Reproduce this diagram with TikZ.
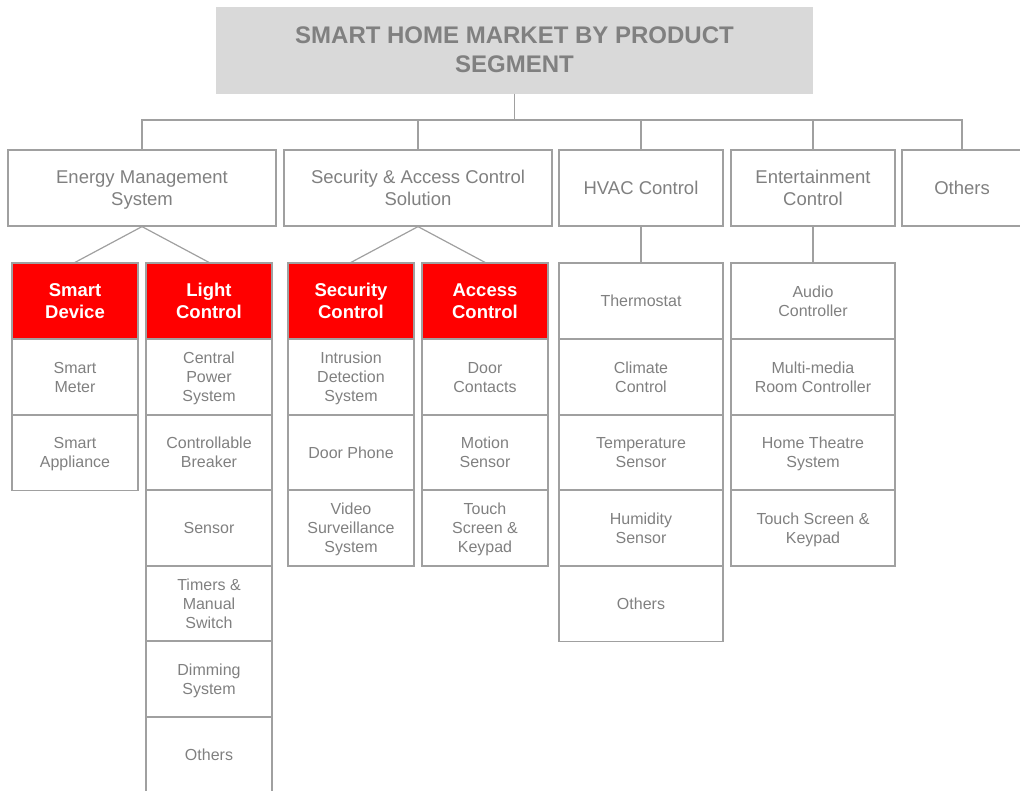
\documentclass[tikz,border=0pt]{standalone}
\usepackage{fontspec}
\setmainfont{Liberation Sans}
\usepackage{xcolor}
\usepackage{tikz}
\definecolor{txtgray}{HTML}{808080}
\definecolor{linegray}{HTML}{A0A0A0}
\definecolor{titlefill}{HTML}{D9D9D9}
\definecolor{headred}{HTML}{FF0000}

\begin{document}
\begin{tikzpicture}[x=1pt,y=-1pt,
    title/.style={fill=titlefill,text=txtgray,align=center,inner sep=0pt,
        minimum width=597pt,minimum height=87pt,text depth=0pt,
        font=\fontsize{24}{29}\selectfont\bfseries},
    cat/.style={draw=linegray,line width=1.2pt,text=txtgray,align=center,inner sep=0pt,
        minimum height=76pt,text depth=0pt,font=\fontsize{18.5}{22}\selectfont},
    head/.style={draw=linegray,line width=1.2pt,fill=headred,text=white,align=center,
        inner sep=0pt,minimum width=126pt,minimum height=76pt,text depth=0pt,
        font=\fontsize{18.5}{22}\selectfont\bfseries},
    item/.style={draw=linegray,line width=1.2pt,text=txtgray,align=center,inner sep=0pt,
        minimum width=126pt,minimum height=76pt,text depth=0pt,
        font=\fontsize{16}{19}\selectfont},
    wide/.style={item,minimum width=164pt},
    link/.style={draw=linegray,line width=1.2pt}]
\useasboundingbox (0,0) rectangle (1020,790);
\clip (0,0) rectangle (1020,790);
\begin{scope}

    % title and first level
    \node[title] (title) at (514.5,50) {SMART HOME MARKET BY PRODUCT\\SEGMENT};
    \coordinate (bus) at (514.5,120);

    \node[cat,minimum width=268pt] (energy) at (142,188) {Energy Management\\System};
    \node[cat,minimum width=268pt] (secacc) at (418,188) {Security \& Access Control\\Solution};
    \node[cat,minimum width=164pt] (hvac) at (641,188) {HVAC Control};
    \node[cat,minimum width=164pt] (ent) at (813,188) {Entertainment\\Control};
    \node[cat,minimum width=120pt] (oth) at (962,188) {Others};

    \draw[link] (title.south) -- (bus);
    \draw[link] (energy.north) |- (bus) -| (oth.north);
    \draw[link] (secacc.north) -- (secacc.north |- bus);
    \draw[link] (hvac.north) -- (hvac.north |- bus);
    \draw[link] (ent.north) -- (ent.north |- bus);

    % energy management
    \node[head] (smartdev) at (75,301) {Smart\\Device};
    \node[item] (sd1) at (75,377) {Smart\\Meter};
    \node[item] (sd2) at (75,452.5) {Smart\\Appliance};

    \node[head] (light) at (209,301) {Light\\Control};
    \node[item] (lc1) at (209,377) {Central\\Power\\System};
    \node[item] (lc2) at (209,452.5) {Controllable\\Breaker};
    \node[item] (lc3) at (209,528) {Sensor};
    \node[item] (lc4) at (209,603.5) {Timers \&\\Manual\\Switch};
    \node[item] (lc5) at (209,679) {Dimming\\System};
    \node[item] (lc6) at (209,755) {Others};

    \draw[link] (energy.south) -- (smartdev.north);
    \draw[link] (energy.south) -- (light.north);

    % security and access
    \node[head] (security) at (351,301) {Security\\Control};
    \node[item] (sc1) at (351,377) {Intrusion\\Detection\\System};
    \node[item] (sc2) at (351,452.5) {Door Phone};
    \node[item] (sc3) at (351,528) {Video\\Surveillance\\System};

    \node[head] (access) at (485,301) {Access\\Control};
    \node[item] (ac1) at (485,377) {Door\\Contacts};
    \node[item] (ac2) at (485,452.5) {Motion\\Sensor};
    \node[item] (ac3) at (485,528) {Touch\\Screen \&\\Keypad};

    \draw[link] (secacc.south) -- (security.north);
    \draw[link] (secacc.south) -- (access.north);

    % hvac
    \node[wide] (hv1) at (641,301) {Thermostat};
    \node[wide] (hv2) at (641,377) {Climate\\Control};
    \node[wide] (hv3) at (641,452.5) {Temperature\\Sensor};
    \node[wide] (hv4) at (641,528) {Humidity\\Sensor};
    \node[wide] (hv5) at (641,603.5) {Others};
    \draw[link] (hvac.south) -- (hv1.north);

    % entertainment
    \node[wide] (en1) at (813,301) {Audio\\Controller};
    \node[wide] (en2) at (813,377) {Multi-media\\Room Controller};
    \node[wide] (en3) at (813,452.5) {Home Theatre\\System};
    \node[wide] (en4) at (813,528) {Touch Screen \&\\Keypad};
    \draw[link] (ent.south) -- (en1.north);
\end{scope}
\end{tikzpicture}
\end{document}
